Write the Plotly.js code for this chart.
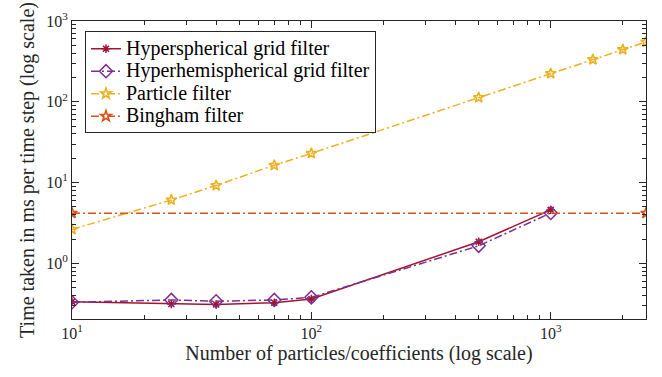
<!DOCTYPE html>
<html><head><meta charset="utf-8">
<script src="https://cdn.plot.ly/plotly-3.0.1.min.js"></script>
<style>
html,body{margin:0;padding:0;background:#fff}
#chart{width:662px;height:377px}
.legendtext{font-size:20px !important;}
</style>
</head><body><div id="chart"></div>
<script>
const gridX = [10, 26, 40, 70, 100, 500, 1000];
const hypersphericalY = [0.336, 0.315, 0.31, 0.326, 0.363, 1.85, 4.6];
const hyperhemisphericalY = [0.33, 0.353, 0.34, 0.353, 0.38, 1.65, 4.2];
const particleX = [10, 26, 40, 70, 100, 500, 1000, 1500, 2000, 2500];
const particleY = [2.63, 6.1, 9.2, 16.4, 23, 113, 224, 333, 443, 550];
const binghamX = [10, 2500];
const binghamY = [4.18, 4.18];
const names = ["Hyperspherical grid filter", "Hyperhemispherical grid filter", "Particle filter", "Bingham filter"];
const xTickVals = [10, 100, 1000];
const xTickText = ["10<sup>1</sup>", "10<sup>2</sup>", "10<sup>3</sup>"];
const yTickVals = [1, 10, 100, 1000];
const yTickText = ["10<sup>0</sup>", "10<sup>1</sup>", "10<sup>2</sup>", "10<sup>3</sup>"];

const serif = "'Liberation Serif', 'Times New Roman', serif";
const dashDot = "8px,3px,2px,3px";
const traces = [
  {x: gridX, y: hypersphericalY, name: names[0], mode: "lines+markers",
   line: {color: "#A2142F", width: 1.5, dash: "solid"},
   marker: {symbol: "asterisk-open", size: 7, color: "#A2142F", line: {color: "#A2142F", width: 1.5}}},
  {x: gridX, y: hyperhemisphericalY, name: names[1], mode: "lines+markers",
   line: {color: "#7E2F8E", width: 1.5, dash: dashDot},
   marker: {symbol: "diamond-open", size: 10, color: "#7E2F8E", line: {color: "#7E2F8E", width: 1.5}}},
  {x: particleX, y: particleY, name: names[2], mode: "lines+markers",
   line: {color: "#EDB120", width: 1.5, dash: dashDot},
   marker: {symbol: "star-open", size: 8, color: "#EDB120", line: {color: "#EDB120", width: 1.6}}},
  {x: binghamX, y: binghamY, name: names[3], mode: "lines+markers",
   line: {color: "#D95319", width: 1.5, dash: dashDot},
   marker: {symbol: "star-open", size: 8, color: "#D95319", line: {color: "#D95319", width: 1.6}}}
];

const axisCommon = {
  type: "log", showgrid: false, zeroline: false,
  showline: true, linecolor: "#262626", linewidth: 1, mirror: "allticks",
  ticks: "inside", ticklen: 7, tickcolor: "#262626", tickwidth: 1,
  minor: {ticks: "inside", ticklen: 4, tickcolor: "#262626", dtick: "D1", showgrid: false},
  tickfont: {family: serif, size: 16, color: "#262626"}
};

const layout = {
  width: 662, height: 377,
  margin: {l: 72, r: 16, t: 21, b: 58},
  paper_bgcolor: "#fff", plot_bgcolor: "#fff",
  showlegend: true,
  legend: {x: 0.0226, y: 0.965, xanchor: "left", yanchor: "top",
    bgcolor: "#fff", bordercolor: "#262626", borderwidth: 1,
    font: {family: serif, size: 15, color: "#000"}, tracegroupgap: 0, itemwidth: 30},
  xaxis: Object.assign({}, axisCommon, {
    range: [1, Math.log10(2500)], tickvals: xTickVals, ticktext: xTickText,
    title: {text: "Number of particles/coefficients (log scale)", font: {family: serif, size: 20, color: "#262626"}, standoff: 4}
  }),
  yaxis: Object.assign({}, axisCommon, {
    range: [Math.log10(0.205), 3], tickvals: yTickVals, ticktext: yTickText,
    title: {text: "Time taken in ms per time step (log scale)", font: {family: serif, size: 20, color: "#262626"}, standoff: 6}
  })
};
Plotly.newPlot("chart", traces, layout, {displayModeBar: false, staticPlot: true});
</script>
</body></html>
